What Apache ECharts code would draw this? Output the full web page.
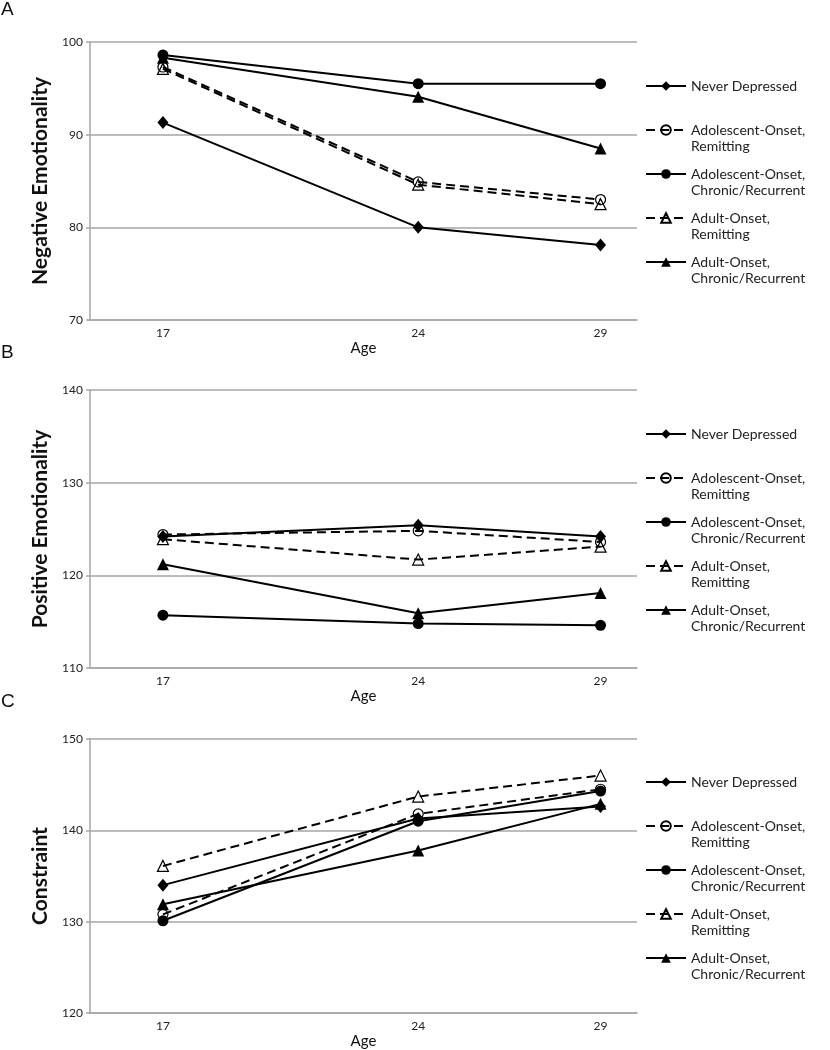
<!DOCTYPE html>
<html>
<head>
<meta charset="utf-8">
<script src="https://cdn.jsdelivr.net/npm/echarts@6/dist/echarts.min.js"></script>
<style>
html,body{margin:0;padding:0;background:#fff;}
#chart{width:830px;height:1050px;}
</style>
</head>
<body>
<div id="chart"></div>
<script>
// ---------- data ----------
const ages = [17, 24, 29];
const groups = [
  'Never Depressed',
  'Adolescent-Onset, Remitting',
  'Adolescent-Onset, Chronic/Recurrent',
  'Adult-Onset, Remitting',
  'Adult-Onset, Chronic/Recurrent'
];
const panelLetters = ['A', 'B', 'C'];
const panelTitles = ['Negative Emotionality', 'Positive Emotionality', 'Constraint'];
const yTicksA = [70, 80, 90, 100];
const yTicksB = [110, 120, 130, 140];
const yTicksC = [120, 130, 140, 150];

// Panel A: Negative Emotionality
const negNever   = [91.3, 80.0, 78.1];
const negAdolRem = [97.3, 84.9, 83.0];
const negAdolChr = [98.6, 95.5, 95.5];
const negAdulRem = [97.1, 84.6, 82.5];
const negAdulChr = [98.3, 94.1, 88.5];

// Panel B: Positive Emotionality
const posNever   = [124.2, 125.4, 124.2];
const posAdolRem = [124.4, 124.8, 123.6];
const posAdolChr = [115.7, 114.8, 114.6];
const posAdulRem = [123.9, 121.7, 123.1];
const posAdulChr = [121.2, 115.9, 118.1];

// Panel C: Constraint
const conNever   = [134.0, 141.3, 142.6];
const conAdolRem = [130.8, 141.8, 144.5];
const conAdolChr = [130.1, 141.0, 144.3];
const conAdulRem = [136.1, 143.7, 146.0];
const conAdulChr = [131.9, 137.8, 142.9];

const panelData = [
  [negNever, negAdolRem, negAdolChr, negAdulRem, negAdulChr],
  [posNever, posAdolRem, posAdolChr, posAdulRem, posAdulChr],
  [conNever, conAdolRem, conAdolChr, conAdulRem, conAdulChr]
];
const panelTicks = [yTicksA, yTicksB, yTicksC];

// ---------- styles ----------
const FONT = 'Lato, "Open Sans", sans-serif';
const GRID_COLOR = '#a6a6a6';
const seriesStyles = [
  { symbol: 'diamond',  size: [11, 13], dashed: false, filled: true },
  { symbol: 'circle',   size: 10, dashed: true,  filled: false },
  { symbol: 'circle',   size: 11, dashed: false, filled: true },
  { symbol: 'triangle', size: 11, dashed: true,  filled: false },
  { symbol: 'triangle', size: 12, dashed: false, filled: true }
];
const panelTops = [42, 390, 739];
const plotHeight = 278;
const legendTops = [62, 410, 758];
const letterTops = [0, 343, 692];

const grids = [], xAxes = [], yAxes = [], series = [], legends = [], titles = [];

panelTops.forEach(function (top, p) {
  grids.push({ left: 90, right: 193, top: top, height: plotHeight, containLabel: false });
  xAxes.push({
    type: 'value', gridIndex: p, min: 15, max: 30,
    name: 'Age', nameLocation: 'middle', nameGap: 21,
    nameTextStyle: { fontFamily: FONT, fontSize: 15, color: '#111' },
    axisLine: { show: true, lineStyle: { color: GRID_COLOR, width: 1.5 } },
    axisTick: { show: false },
    splitLine: { show: false },
    axisLabel: { customValues: ages, margin: 7, fontFamily: FONT, fontSize: 12, color: '#222' }
  });
  const t = panelTicks[p];
  yAxes.push({
    type: 'value', gridIndex: p,
    min: t[0], max: t[t.length - 1], interval: t[1] - t[0],
    name: panelTitles[p], nameLocation: 'middle', nameGap: 37, nameRotate: 90,
    nameTextStyle: { fontFamily: FONT, fontSize: 21, fontWeight: 'bold', color: '#111' },
    axisLine: { show: true, lineStyle: { color: GRID_COLOR, width: 1.5 } },
    axisTick: { show: true, length: 4, lineStyle: { color: GRID_COLOR, width: 1.5 } },
    splitLine: { show: true, lineStyle: { color: GRID_COLOR, width: 1.5 } },
    axisLabel: { margin: 7, fontFamily: FONT, fontSize: 12, color: '#222' }
  });
  groups.forEach(function (g, i) {
    const st = seriesStyles[i];
    series.push({
      type: 'line', name: g, xAxisIndex: p, yAxisIndex: p,
      data: ages.map(function (a, k) { return [a, panelData[p][i][k]]; }),
      symbol: st.symbol, symbolSize: st.size,
      lineStyle: { color: '#000', width: 2, type: st.dashed ? [9, 5] : 'solid' },
      itemStyle: st.filled
        ? { color: '#000', borderColor: '#000', borderWidth: 0 }
        : { color: 'rgba(255,255,255,0)', borderColor: '#000', borderWidth: 1.2 },
      emphasis: { disabled: true },
      animation: false
    });
  });
  legends.push({
    orient: 'vertical', left: 645, top: legendTops[p], padding: 0,
    itemWidth: 40, itemHeight: 12, itemGap: -4,
    data: groups,
    selectedMode: false,
    formatter: function (name) {
      // blank first line so the first text line sits level with the legend symbol
      return name.indexOf(', ') >= 0 ? ' \n' + name.replace(', ', ',\n') : ' \n' + name + '\n ';
    },
    textStyle: { fontFamily: FONT, fontSize: 14, color: '#222', lineHeight: 16 }
  });
  titles.push({
    text: panelLetters[p], left: 1, top: letterTops[p], padding: 0,
    textStyle: { fontFamily: '"Liberation Sans", Arial, sans-serif', fontSize: 19, fontWeight: 'normal', color: '#111' }
  });
});

const chart = echarts.init(document.getElementById('chart'), null, { renderer: 'canvas' });
chart.setOption({
  backgroundColor: '#fff',
  animation: false,
  title: titles,
  grid: grids,
  xAxis: xAxes,
  yAxis: yAxes,
  legend: legends,
  series: series
});
</script>
</body>
</html>
